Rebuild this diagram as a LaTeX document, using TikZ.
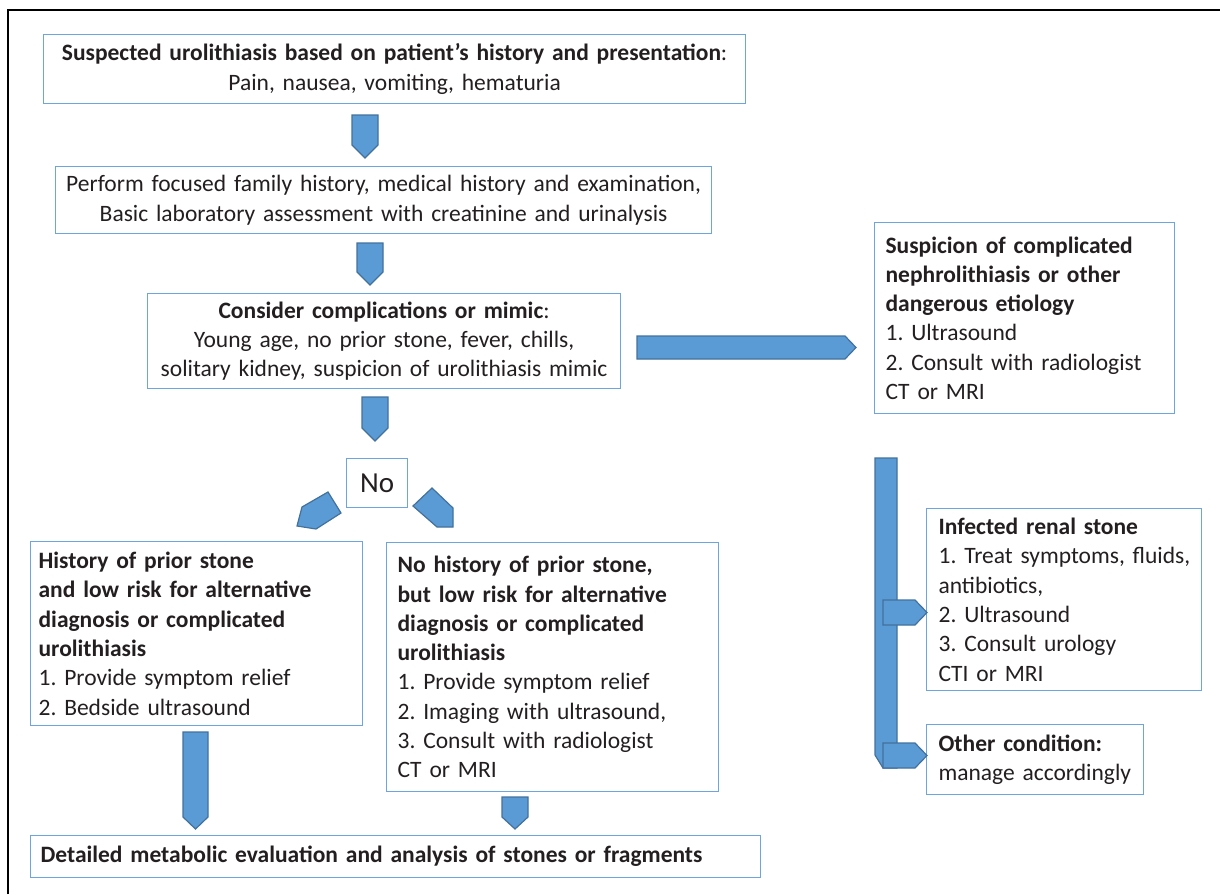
\documentclass[tikz,border=0pt]{standalone}
\usepackage{fontspec}
\setmainfont{Carlito}
\frenchspacing
\definecolor{boxline}{RGB}{110,165,220}
\definecolor{arrfill}{RGB}{91,155,213}
\definecolor{arrline}{RGB}{65,113,156}
\definecolor{txt}{RGB}{35,31,32}
\begin{document}
\begin{tikzpicture}[x=1pt,y=-1pt,
  every node/.style={text=txt,font=\fontsize{23.5}{29.3}\selectfont},
  box/.style={draw=boxline,line width=1.2pt,rectangle,anchor=north west,inner ysep=0pt},
  cbox/.style={box,align=center,inner xsep=0pt},
  lbox/.style={box,align=left},
  blockarr/.style={fill=arrfill,draw=arrline,line width=1.2pt,line join=miter}]
\useasboundingbox (0,0) rectangle (1220,894);
\draw[line width=2pt,black] (8,894) -- (8,10) -- (1220,10);

% boxes
\node[cbox,text width=702pt,minimum height=69pt] (b1) at (43,34)
  {{\bfseries Suspected urolithiasis based on patient’s history and presentation}:\\Pain, nausea, vomiting, hematuria};
\node[cbox,text width=656pt,minimum height=67pt] (b2) at (55,166)
  {Perform focused family history, medical history and examination,\\Basic laboratory assessment with creatinine and urinalysis};
\node[cbox,text width=473pt,minimum height=95pt] (b3) at (147,293)
  {{\bfseries Consider complications or mimic}:\\Young age, no prior stone, fever, chills,\\solitary kidney, suspicion of urolithiasis mimic};
\node[cbox,text width=61pt,minimum height=49pt,font=\fontsize{29}{34}\selectfont] (no) at (346,458) {No};
\node[lbox,inner xsep=8pt,text width=316pt,minimum height=184pt] (bl) at (30,541)
  {{\bfseries History of prior stone\\and low risk for alternative\\diagnosis or complicated\\urolithiasis}\\1. Provide symptom relief\\2. Bedside ultrasound};
\node[lbox,inner xsep=11pt,text width=310pt,minimum height=249pt] (bm) at (386,542)
  {{\bfseries No history of prior stone,\\but low risk for alternative\\diagnosis or complicated\\urolithiasis}\\1. Provide symptom relief\\2. Imaging with ultrasound,\\3. Consult with radiologist\\CT or MRI};
\node[lbox,inner xsep=10pt,text width=710pt,minimum height=42pt] (bb) at (30,835)
  {\bfseries Detailed metabolic evaluation and analysis of stones or fragments};
\node[lbox,inner xsep=11pt,text width=278pt,minimum height=191pt] (r1) at (874,222)
  {{\bfseries Suspicion of complicated\\nephrolithiasis or other\\dangerous etiology}\\1. Ultrasound\\2. Consult with radiologist\\CT or MRI};
\node[lbox,inner xsep=12pt,text width=251pt,minimum height=182pt] (r2) at (926,508)
  {{\bfseries Infected renal stone}\\\mbox{1. Treat symptoms, fluids,}\\antibiotics,\\2. Ultrasound\\3. Consult urology\\CTI or MRI};
\node[lbox,inner xsep=12pt,text width=193pt,minimum height=70pt] (r3) at (926,724)
  {{\bfseries Other condition:}\\manage accordingly};

% block arrows
\draw[blockarr] (352,115) -- (378,115) -- (378,145) -- (365,158) -- (352,145) -- cycle;
\draw[blockarr] (357,243) -- (383,243) -- (383,272) -- (370,285) -- (357,272) -- cycle;
\draw[blockarr] (362,397) -- (388,397) -- (388,428) -- (375,441) -- (362,428) -- cycle;
\draw[blockarr] (328,492) -- (341,513) -- (316,529) -- (297,526) -- (302,507) -- cycle;
\draw[blockarr] (413,506) -- (432,488) -- (453,508) -- (453,527) -- (437,527) -- cycle;
\draw[blockarr] (183,732) -- (208,732) -- (208,817) -- (195.5,829) -- (183,817) -- cycle;
\draw[blockarr] (502,797) -- (528,797) -- (528,817) -- (515,829) -- (502,817) -- cycle;
\draw[blockarr] (637,336) -- (845,336) -- (856,347.5) -- (845,359) -- (637,359) -- cycle;
\draw[blockarr] (875,458) -- (897,458) -- (897,768) -- (883,768) -- (875,755) -- cycle;
\draw[blockarr] (883,600) -- (915,600) -- (927,612.5) -- (915,625) -- (883,625) -- cycle;
\draw[blockarr] (883,743) -- (915,743) -- (927,755.5) -- (915,768) -- (883,768) -- cycle;
\end{tikzpicture}
\end{document}
